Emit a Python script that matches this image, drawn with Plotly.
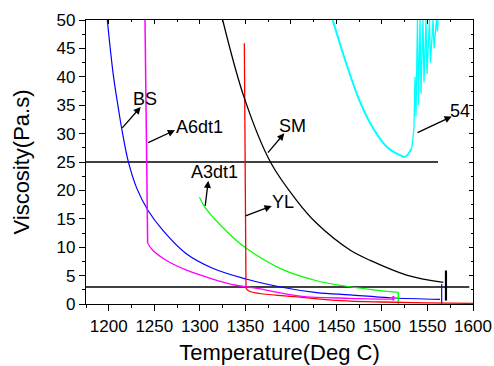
import plotly.graph_objects as go

# Viscosity curves (temperature in deg C, viscosity in Pa.s)
bs_t = [1198.4, 1205.0, 1210.5, 1214.2, 1221.5, 1230.7, 1243.0, 1259.2, 1284.8,
        1314.1, 1350.7, 1391.7, 1428.3, 1464.9, 1508.8, 1563.8]
bs_v = [50.0, 40.3, 34.5, 30.9, 25.05, 20.4, 16.5, 13.0, 8.9,
        6.3, 4.4, 2.9, 2.0, 1.6, 1.1, 0.8]
bs_end_t = [1565.6, 1565.6]
bs_end_v = [0.0, 3.5]

a6_drop_t = [1239.8, 1241.6, 1242.7]
a6_drop_v = [50.0, 26.5, 10.7]
a6_t = [1242.7, 1248.1, 1262.9, 1284.8, 1314.1, 1339.7, 1361.7, 1410.0, 1465.0, 1512.5]
a6_v = [10.7, 9.5, 7.7, 6.0, 4.4, 3.3, 2.8, 1.4, 1.0, 0.85]
a6_end_t = [1512.5, 1512.5]
a6_end_v = [0.6, 1.4]

yl_drop_t = [1348.9, 1350.7]
yl_drop_v = [45.9, 2.75]
yl_t = [1350.7, 1355.0, 1410.0, 1454.0, 1500.0, 1550.0, 1600.0]
yl_v = [2.75, 2.2, 1.2, 0.6, 0.35, 0.2, 0.1]

a3_t = [1299.6, 1305.7, 1328.7, 1351.0, 1391.7, 1428.3, 1454.0, 1490.5, 1518.0]
a3_v = [18.8, 17.0, 12.9, 9.8, 6.0, 4.1, 3.3, 2.5, 2.05]
a3_end_t = [1518.0, 1518.0]
a3_end_v = [2.05, 0.0]

sm_t = [1325.1, 1349.0, 1377.5, 1406.0, 1428.3, 1464.9, 1486.9, 1527.1, 1567.4]
sm_v = [50.0, 36.2, 25.0, 18.3, 14.2, 9.5, 7.7, 5.1, 3.8]
sm_end_t = [1570.3, 1570.3]
sm_end_v = [5.9, 0.6]

s54_t = [1445.9, 1461.3, 1475.9, 1490.5, 1505.2, 1519.8, 1525.3, 1532.7]
s54_v = [50.0, 42.1, 35.6, 30.9, 27.7, 26.2, 25.9, 27.4]
s54_jag_t = [1532.7, 1535.2, 1536.3, 1537.4, 1539.0, 1540.1, 1541.8, 1542.9,
             1545.1, 1546.2, 1548.4, 1549.5, 1552.2, 1553.3, 1556.1, 1557.2,
             1559.9, 1561.0, 1561.6]
s54_jag_v = [27.4, 31.0, 40.0, 33.0, 50.0, 35.0, 50.0, 37.0,
             50.0, 39.0, 50.0, 40.5, 50.0, 42.5, 50.0, 45.0,
             50.0, 48.0, 50.0]

# Reference levels
ref25_t = [1175.0, 1561.6]
ref25_v = [25.0, 25.0]
ref3_t = [1175.0, 1595.9]
ref3_v = [3.0, 3.0]

# Curve labels: (text, text position, arrow tail on curve, arrow head)
labels = [
    ("BS", (1239.6, 36.1), (1213.4, 30.75), (1235.1, 34.7)),
    ("A6dt1", (1299.6, 31.1), (1241.6, 28.3), (1272.7, 30.6)),
    ("A3dt1", (1315.7, 23.3), (1305.7, 17.0), (1309.3, 21.7)),
    ("YL", (1390.8, 17.9), (1348.5, 15.4), (1378.9, 17.25)),
    ("SM", (1402.3, 31.4), (1373.4, 26.4), (1392.8, 30.05)),
    ("54", (1585.7, 34.0), (1537.4, 30.05), (1576.6, 33.0)),
]

x_range = [1175, 1600]
y_range = [0, 50]
FONT = "Liberation Sans, Arial, sans-serif"

fig = go.Figure()


def add_line(x, y, color, width=1.2, shape="linear"):
    line = dict(color=color, width=width, shape=shape)
    if shape == "spline":
        line["smoothing"] = 1.0
    fig.add_trace(go.Scatter(x=x, y=y, mode="lines", line=line,
                             showlegend=False, hoverinfo="skip"))


add_line(ref25_t, ref25_v, "black", 1.5)
add_line(ref3_t, ref3_v, "black", 1.5)

add_line(bs_t, bs_v, "#0000FF", 1.2, "spline")
add_line(bs_end_t, bs_end_v, "#0000FF", 1.2)

add_line(a3_t, a3_v, "#00FF00", 1.2, "spline")
add_line(a3_end_t, a3_end_v, "#00FF00", 1.5)

add_line(yl_t, yl_v, "#FF0000", 1.3, "spline")
add_line(yl_drop_t, yl_drop_v, "#FF0000", 1.3)

add_line(a6_drop_t, a6_drop_v, "#FF00FF", 1.5)
add_line(a6_t, a6_v, "#FF00FF", 1.3, "spline")
add_line(a6_end_t, a6_end_v, "#FF00FF", 2.0)

add_line(sm_t, sm_v, "black", 1.3, "spline")
add_line(sm_end_t, sm_end_v, "black", 2.2)

add_line(s54_t, s54_v, "#00FFFF", 2.0, "spline")
add_line(s54_jag_t, s54_jag_v, "#00FFFF", 1.3)

# Invisible trace that brings up the mirrored top/right axes
fig.add_trace(go.Scatter(x=[None], y=[None], xaxis="x2", yaxis="y2",
                         showlegend=False, hoverinfo="skip"))

for text, (tx, ty), (ax_, ay_), (hx, hy) in labels:
    fig.add_annotation(x=hx, y=hy, ax=ax_, ay=ay_, xref="x", yref="y",
                       axref="x", ayref="y", text="", showarrow=True,
                       arrowhead=2, arrowsize=1.1, arrowwidth=1.3,
                       arrowcolor="black", standoff=0, startstandoff=0)
    fig.add_annotation(x=tx, y=ty, xref="x", yref="y", text=text,
                       showarrow=False, xanchor="center", yanchor="middle",
                       font=dict(family=FONT, size=18, color="black"))

axis_common = dict(showgrid=False, zeroline=False, showline=True,
                   linecolor="black", linewidth=1.3,
                   tickcolor="black", tickwidth=1, automargin=False)

fig.update_layout(
    width=494, height=366,
    margin=dict(l=86, r=21, t=20, b=62),
    paper_bgcolor="white", plot_bgcolor="white",
    font=dict(family=FONT, color="black"),
    xaxis=dict(range=x_range, dtick=50, tick0=1200, ticks="outside", ticklen=6,
               minor=dict(dtick=25, tick0=1175, ticks="outside", ticklen=3,
                          tickcolor="black"),
               tickfont=dict(size=17),
               title=dict(text="Temperature(Deg C)", font=dict(size=22),
                          standoff=10),
               **axis_common),
    yaxis=dict(range=y_range, dtick=5, ticks="outside", ticklen=6,
               minor=dict(dtick=2.5, ticks="outside", ticklen=3,
                          tickcolor="black"),
               tickfont=dict(size=17),
               title=dict(text="Viscosity(Pa.s)", font=dict(size=22),
                          standoff=20),
               **axis_common),
    xaxis2=dict(range=x_range, overlaying="x", side="top", anchor="y2",
                dtick=50, tick0=1200, ticks="inside", ticklen=4,
                minor=dict(dtick=25, tick0=1175, ticks="inside", ticklen=2,
                           tickcolor="black"),
                showticklabels=False, **axis_common),
    yaxis2=dict(range=y_range, overlaying="y", side="right", anchor="x2",
                dtick=5, ticks="inside", ticklen=4,
                minor=dict(dtick=2.5, ticks="inside", ticklen=2,
                           tickcolor="black"),
                showticklabels=False, **axis_common),
)

fig.write_html("out.html")
